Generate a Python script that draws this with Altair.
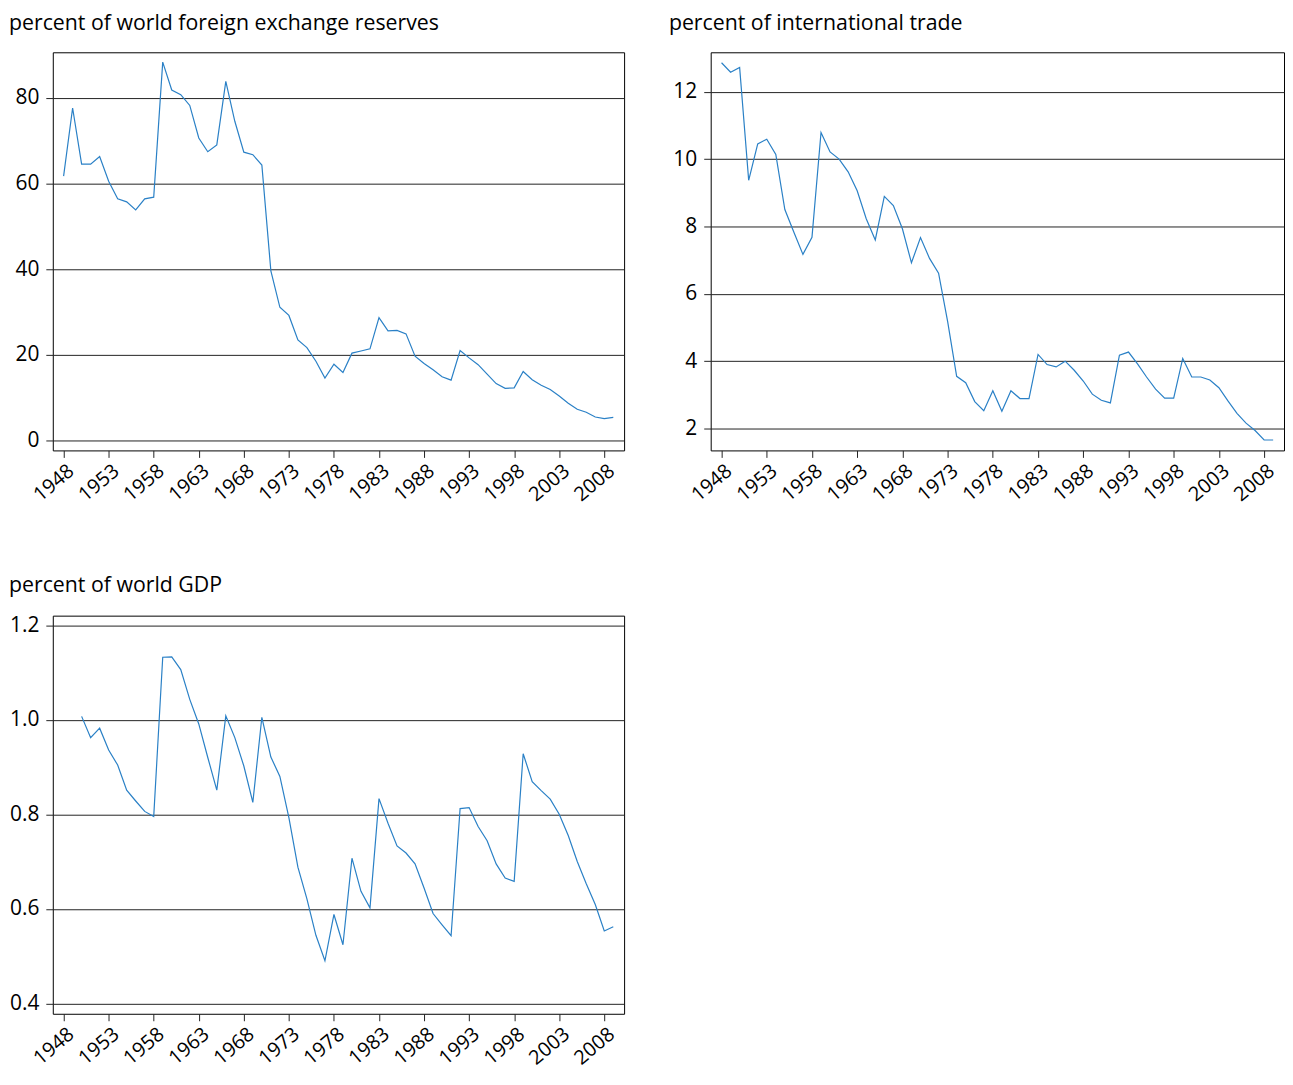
import altair as alt
import pandas as pd

# ---- data ----
years = list(range(1948, 2010))
gdp_years = list(range(1950, 2010))

reserves = [61.7, 77.6, 64.5, 64.5, 66.3, 60.5, 56.4, 55.7, 53.8, 56.4,
            56.8, 88.3, 81.8, 80.7, 78.2, 70.6, 67.4, 69.0, 83.8, 74.5,
            67.3, 66.7, 64.3, 39.6, 31.1, 29.2, 23.5, 21.7, 18.5, 14.6,
            17.8, 15.9, 20.4, 20.9, 21.4, 28.7, 25.6, 25.7, 24.9, 19.7,
            18.0, 16.5, 14.9, 14.1, 21.0, 19.3, 17.7, 15.5, 13.3, 12.2,
            12.3, 16.1, 14.2, 12.9, 11.9, 10.4, 8.7, 7.3, 6.6, 5.5,
            5.1, 5.4]

trade = [12.86, 12.58, 12.72, 9.37, 10.45, 10.59, 10.14, 8.50, 7.83, 7.17,
         7.68, 10.79, 10.21, 10.00, 9.62, 9.06, 8.23, 7.60, 8.89, 8.62,
         7.93, 6.92, 7.67, 7.05, 6.61, 5.18, 3.55, 3.36, 2.80, 2.53,
         3.12, 2.51, 3.12, 2.89, 2.89, 4.20, 3.90, 3.83, 4.00, 3.73,
         3.41, 3.02, 2.84, 2.76, 4.18, 4.27, 3.92, 3.53, 3.17, 2.90,
         2.90, 4.08, 3.53, 3.53, 3.44, 3.21, 2.82, 2.45, 2.16, 1.94,
         1.66, 1.66]

gdp = [1.007, 0.962, 0.982, 0.936, 0.904, 0.851, 0.828, 0.806, 0.795, 1.132,
       1.133, 1.106, 1.043, 0.991, 0.920, 0.851, 1.008, 0.962, 0.902, 0.825,
       1.005, 0.921, 0.880, 0.793, 0.688, 0.621, 0.544, 0.490, 0.588, 0.524,
       0.707, 0.637, 0.602, 0.833, 0.781, 0.733, 0.718, 0.695, 0.644, 0.590,
       0.566, 0.543, 0.812, 0.814, 0.774, 0.744, 0.695, 0.665, 0.658, 0.928,
       0.869, 0.850, 0.832, 0.800, 0.755, 0.700, 0.653, 0.609, 0.553, 0.562]

x_ticks = list(range(1948, 2009, 5))
reserves_ticks = [0, 20, 40, 60, 80]
trade_ticks = [2, 4, 6, 8, 10, 12]
gdp_ticks = [0.4, 0.6, 0.8, 1.0, 1.2]

titles = ["percent of world foreign exchange reserves",
          "percent of international trade",
          "percent of world GDP"]

FONT = "Open Sans"
LINE = "#2a80c6"
DARK = "#222222"


def panel(xs, values, title, domain, yticks, yfmt, width, title_dx):
    df = pd.DataFrame({"year": xs, "value": values})
    return alt.Chart(
        df,
        title=alt.TitleParams(title, anchor="start", frame="group", font=FONT,
                              fontSize=21.4, fontWeight="normal", color="black",
                              baseline="alphabetic", offset=1, dx=title_dx),
    ).mark_line(color=LINE, strokeWidth=1.2).encode(
        x=alt.X("year:Q",
                scale=alt.Scale(domain=[1946.8, 2010.2], nice=False, zero=False),
                axis=alt.Axis(values=x_ticks, format="d", title=None,
                              labelAngle=-40, labelAlign="right",
                              labelBaseline="top", labelOffset=1,
                              grid=False, domain=False,
                              tickSize=7, tickColor=DARK, labelFont=FONT,
                              labelFontSize=20, labelColor="black",
                              labelPadding=3, labelOverlap=False)),
        y=alt.Y("value:Q",
                scale=alt.Scale(domain=domain, nice=False, zero=False),
                axis=alt.Axis(values=yticks, format=yfmt, title=None, grid=True,
                              gridColor=DARK, gridWidth=1, gridOpacity=1,
                              domain=False, tickSize=7, tickColor=DARK,
                              labelFont=FONT, labelFontSize=21,
                              labelColor="black", labelPadding=7,
                              labelOverlap=False)),
    ).properties(width=width, height=400)


p1 = panel(years, reserves, titles[0], [-2.3, 90.6], reserves_ticks, "d", 574, -44)
p2 = panel(years, trade, titles[1], [1.35, 13.17], trade_ticks, "d", 576, -42)
p3 = panel(gdp_years, gdp, titles[2], [0.378, 1.22], gdp_ticks, ".1f", 574, -44)

chart = alt.concat(
    p1, p2, p3, columns=2, spacing={"row": 166, "column": 87}, bounds="flush"
).properties(
    padding={"left": 0, "top": 2, "right": 0, "bottom": 0}
).configure_view(stroke="black", strokeWidth=1)

chart.save("out.html", embed_options={"renderer": "svg", "actions": False})
